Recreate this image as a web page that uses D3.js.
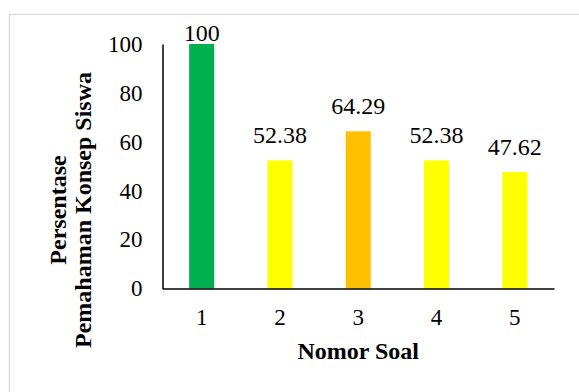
<!DOCTYPE html>
<html>
<head>
<meta charset="utf-8">
<script src="https://cdn.jsdelivr.net/npm/d3@7"></script>
<style>
  html, body { margin: 0; padding: 0; background: #fff; }
  svg { display: block; }
</style>
</head>
<body>
<svg id="chart" width="579" height="392"></svg>
<script>
const categories = ["1", "2", "3", "4", "5"];
const values = [100, 52.38, 64.29, 52.38, 47.62];
const barColors = ["#00b050", "#ffff00", "#ffc000", "#ffff00", "#ffff00"];
const yTicks = [0, 20, 40, 60, 80, 100];
const xTitle = "Nomor Soal";
const yTitleLines = ["Persentase", "Pemahaman Konsep Siswa"];

const FONT = '"Liberation Serif"';
const svg = d3.select("#chart");

// chart frame
svg.append("rect")
  .attr("x", 9.5).attr("y", 14.5)
  .attr("width", 620).attr("height", 420)
  .attr("fill", "#fff").attr("stroke", "#d9d9d9").attr("stroke-width", 1.3);

const plot = { left: 162.5, right: 554, top: 44, bottom: 288.5 };

const x = d3.scaleBand().domain(categories)
  .range([plot.left, plot.right]).paddingInner(0.68).paddingOuter(0.34);
const y = d3.scaleLinear().domain([0, 100]).range([plot.bottom, plot.top]);

// bars
svg.append("g").selectAll("rect").data(values).join("rect")
  .attr("x", (d, i) => x(categories[i]))
  .attr("y", d => y(d))
  .attr("width", x.bandwidth())
  .attr("height", d => y(0) - y(d))
  .attr("fill", (d, i) => barColors[i]);

// y axis
const yAxis = svg.append("g").attr("transform", `translate(${plot.left},0)`)
  .call(d3.axisLeft(y).tickValues(yTicks).tickSize(0).tickPadding(20).tickFormat(d3.format("d")));
yAxis.attr("font-family", null).attr("font-size", null);
yAxis.select(".domain").attr("stroke", "#000").attr("stroke-width", 1.5);
yAxis.selectAll("text").style("font-family", FONT).style("font-size", "23px").attr("fill", "#000");

// x axis
const xAxis = svg.append("g").attr("transform", `translate(0,${plot.bottom})`)
  .call(d3.axisBottom(x).tickSize(0).tickPadding(20));
xAxis.attr("font-family", null).attr("font-size", null);
xAxis.select(".domain").attr("stroke", "#000").attr("stroke-width", 1.5);
xAxis.selectAll("text").style("font-family", FONT).style("font-size", "23px").attr("fill", "#000");

// data labels
svg.append("g").selectAll("text").data(values).join("text")
  .attr("x", (d, i) => x(categories[i]) + x.bandwidth() / 2)
  .attr("y", d => Math.max(y(d) - 17, 41))
  .attr("text-anchor", "middle")
  .style("font-family", FONT)
  .style("font-size", "24px")
  .attr("fill", "#000")
  .text(d => d3.format(".2~f")(d));

// x title
svg.append("text")
  .attr("x", (plot.left + plot.right) / 2).attr("y", 359)
  .attr("text-anchor", "middle")
  .style("font-family", FONT)
  .style("font-size", "24px").style("font-weight", "bold")
  .attr("fill", "#000")
  .text(xTitle);

// y title
const yt = svg.append("text")
  .attr("transform", "translate(0,210) rotate(-90)")
  .attr("text-anchor", "middle")
  .style("font-family", FONT)
  .style("font-size", "24px").style("font-weight", "bold")
  .attr("fill", "#000");
yTitleLines.forEach((line, i) => {
  yt.append("tspan").attr("x", 0).attr("y", 66 + i * 24.5).text(line);
});
</script>
</body>
</html>
